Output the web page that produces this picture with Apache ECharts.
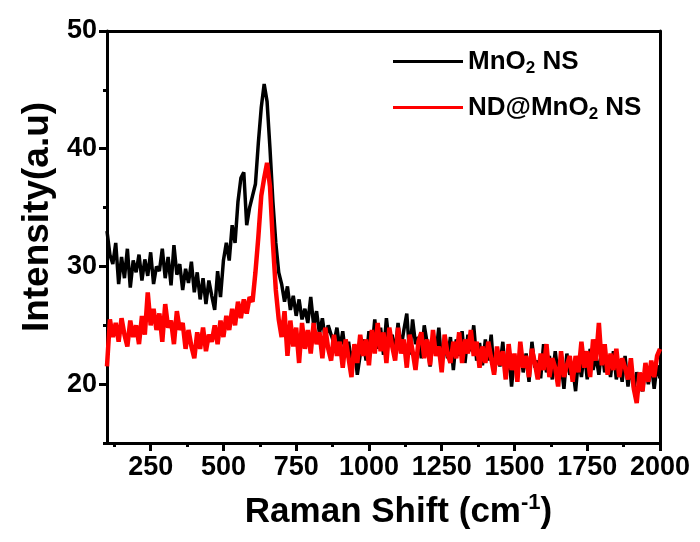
<!DOCTYPE html>
<html><head><meta charset="utf-8">
<script src="https://cdn.jsdelivr.net/npm/echarts@6/dist/echarts.min.js"></script>
<style>html,body{margin:0;padding:0;background:#fff}#c{width:700px;height:542px}</style>
</head><body><div id="c"></div>
<script>
// Raman shift (cm-1)
const shift = [100,110,120,130,140,150,160,170,180,190,200,210,220,230,240,250,260,270,280,290,300,310,320,330,340,350,360,370,380,390,400,410,420,430,440,450,460,470,480,490,500,510,520,530,540,550,560,570,580,590,600,610,620,630,640,650,660,670,680,690,700,710,720,730,740,750,760,770,780,790,800,810,820,830,840,850,860,870,880,890,900,910,920,930,940,950,960,970,980,990,1000,1010,1020,1030,1040,1050,1060,1070,1080,1090,1100,1110,1120,1130,1140,1150,1160,1170,1180,1190,1200,1210,1220,1230,1240,1250,1260,1270,1280,1290,1300,1310,1320,1330,1340,1350,1360,1370,1380,1390,1400,1410,1420,1430,1440,1450,1460,1470,1480,1490,1500,1510,1520,1530,1540,1550,1560,1570,1580,1590,1600,1610,1620,1630,1640,1650,1660,1670,1680,1690,1700,1710,1720,1730,1740,1750,1760,1770,1780,1790,1800,1810,1820,1830,1840,1850,1860,1870,1880,1890,1900,1910,1920,1930,1940,1950,1960,1970,1980,1990,2000];
// MnO2 NS intensity
const mno2 = [
33.0,31.0,30.2,32.0,28.5,30.8,29.0,31.5,28.2,30.5,
29.5,31.0,28.8,30.6,29.2,31.2,28.5,30.0,29.6,31.5,
29.0,30.8,28.4,31.8,29.3,30.2,28.0,29.8,28.6,30.4,
27.8,29.5,27.2,29.0,26.8,28.8,27.5,26.3,29.6,27.4,
30.5,32.0,30.5,33.5,32.0,35.5,37.5,38.0,33.5,35.0,
36.0,37.0,40.5,43.5,45.5,44.0,40.0,35.5,32.0,29.5,
28.5,27.0,28.3,26.3,27.5,25.8,27.2,25.5,26.4,25.2,
27.4,25.0,26.2,24.3,25.6,23.8,25.0,24.2,23.5,24.8,
23.0,24.5,22.4,23.6,21.8,23.2,20.8,22.5,23.8,22.0,
24.5,22.8,25.5,23.0,24.8,22.5,25.6,23.4,24.2,22.6,
25.2,23.0,24.6,26.0,22.5,25.5,23.4,24.0,22.2,25.0,
23.5,21.5,24.2,22.5,24.8,21.8,23.6,22.2,24.0,21.2,
23.8,22.4,24.5,21.8,24.2,22.8,25.0,22.0,23.5,21.6,
23.8,22.0,24.2,20.8,23.0,21.5,23.6,20.5,22.8,19.8,
22.4,20.6,23.2,21.0,22.6,20.2,23.6,21.4,22.0,20.5,
23.4,21.0,22.4,20.4,22.8,20.8,21.8,19.6,22.6,20.8,
21.4,19.4,22.2,20.6,22.8,20.4,23.0,21.2,22.4,20.8,
23.0,21.0,22.2,20.6,22.8,20.4,21.8,20.2,22.4,19.8,
21.6,19.6,21.0,20.2,19.4,21.4,20.0,21.8,19.6,21.6,
20.5];
// ND@MnO2 NS intensity
const ndMno2 = [
21.5,25.5,24.0,25.2,23.6,25.6,24.2,23.2,25.4,24.0,
25.0,23.4,25.8,24.2,27.8,25.0,26.4,24.6,26.0,23.6,
26.8,24.8,25.4,23.4,26.2,24.6,25.2,23.0,24.6,23.2,
22.2,24.4,23.0,24.8,22.8,24.2,23.6,25.0,23.4,25.4,
24.0,25.8,24.6,26.4,25.0,27.0,25.6,27.2,26.0,27.4,
27.0,29.5,32.5,36.0,37.5,38.8,36.8,32.0,28.0,25.5,
24.0,26.2,22.4,25.4,23.2,24.8,21.8,25.2,23.0,24.6,
22.6,25.2,23.4,24.4,22.2,24.8,23.0,22.0,24.2,22.4,
23.6,21.4,23.8,22.2,20.6,23.4,21.8,24.2,22.4,23.8,
21.6,24.6,22.6,25.2,22.8,24.4,21.8,24.8,23.2,22.0,
24.8,22.6,23.8,21.4,24.2,22.8,21.2,23.6,24.4,22.2,
23.8,21.6,24.6,22.4,23.2,21.0,24.2,22.6,21.8,23.6,
22.2,24.4,21.8,23.8,22.6,24.6,22.4,23.6,21.4,23.2,
21.8,23.6,22.2,20.8,23.2,21.6,22.8,20.4,23.4,21.2,
22.6,20.2,23.6,21.4,22.4,20.6,23.0,21.8,20.4,22.6,
21.2,23.4,20.6,22.2,21.4,19.8,22.8,20.6,21.6,22.4,
20.2,22.4,21.0,23.6,21.4,22.8,20.6,23.8,22.0,25.2,
21.6,23.4,20.8,22.6,21.2,23.0,20.6,22.2,21.4,20.4,
22.2,19.6,18.4,21.0,19.4,21.8,20.2,22.0,20.6,22.4,
23.0];
const xTicks = [250,500,750,1000,1250,1500,1750,2000];
const xMinor = [125,375,625,875,1125,1375,1625,1875];
const yTicks = [20,30,40,50];
const yMinor = [15,25,35,45];

const FONT = '"Liberation Sans",Arial,sans-serif';
const chart = echarts.init(document.getElementById('c'), null, {renderer: 'canvas'});
const lw = 3;
const hidden = {show: false};
const plain = v => String(v);
const option = {
  animation: false,
  backgroundColor: '#fff',
  grid: {left: 107, right: 40, top: 31, bottom: 99, containLabel: false},
  legend: {
    orient: 'vertical', left: 388, top: 39, itemWidth: 70, itemHeight: 3, itemGap: 13,
    icon: 'rect',
    textStyle: {
      fontFamily: FONT, fontWeight: 'bold', fontSize: 26, color: '#000',
      rich: {
        a: {fontFamily: FONT, fontWeight: 'bold', fontSize: 26, color: '#000', lineHeight: 31},
        s: {fontFamily: FONT, fontWeight: 'bold', fontSize: 17, color: '#000', lineHeight: 17, verticalAlign: 'bottom', padding: [16, 0, 0, 0]}
      }
    },
    formatter: function (name) {
      return name === 'MnO2 NS' ? '{a|MnO}{s|2}{a| NS}' : '{a|ND@MnO}{s|2}{a| NS}';
    },
    data: ['MnO2 NS', 'ND@MnO2 NS']
  },
  xAxis: [
    {
      type: 'value', min: 100, max: 2000, position: 'bottom',
      name: '{a|Raman Shift (cm}{u|-1}{a|)}', nameLocation: 'middle', nameGap: 49,
      nameTextStyle: {
        padding: [0, 0, 0, 30],
        rich: {
          a: {fontFamily: FONT, fontWeight: 'bold', fontSize: 35, color: '#000', lineHeight: 40},
          u: {fontFamily: FONT, fontWeight: 'bold', fontSize: 22, color: '#000', lineHeight: 22, verticalAlign: 'top', padding: [0, 0, 18, 0]}
        }
      },
      axisLine: {onZero: false, lineStyle: {color: '#000', width: lw}},
      axisTick: {show: true, inside: false, length: 8, lineStyle: {width: lw, color: '#000'}, customValues: xTicks},
      axisLabel: {show: true, customValues: xTicks, formatter: plain, showMaxLabel: true, hideOverlap: false, margin: 11, fontFamily: FONT, fontWeight: 'bold', fontSize: 27, color: '#000'},
      splitLine: hidden
    },
    {
      type: 'value', min: 100, max: 2000, position: 'bottom', gridIndex: 0,
      axisLine: {show: false, onZero: false},
      axisTick: {show: true, length: 4, lineStyle: {width: lw, color: '#000'}, customValues: xMinor},
      axisLabel: hidden, splitLine: hidden
    },
    {
      type: 'value', min: 100, max: 2000, position: 'top',
      axisLine: {onZero: false, lineStyle: {color: '#000', width: lw}},
      axisTick: hidden, axisLabel: hidden, splitLine: hidden
    }
  ],
  yAxis: [
    {
      type: 'value', min: 15, max: 50, position: 'left',
      name: 'Intensity(a.u)', nameLocation: 'middle', nameGap: 50, nameRotate: 90,
      nameTextStyle: {fontFamily: FONT, fontWeight: 'bold', fontSize: 37, color: '#000', padding: [0, 0, 0, 40]},
      axisLine: {onZero: false, lineStyle: {color: '#000', width: lw}},
      axisTick: {show: true, length: 8, lineStyle: {width: lw, color: '#000'}, customValues: yTicks},
      axisLabel: {show: true, customValues: yTicks, formatter: plain, showMaxLabel: true, margin: 10, fontFamily: FONT, fontWeight: 'bold', fontSize: 27, color: '#000'},
      splitLine: hidden
    },
    {
      type: 'value', min: 15, max: 50, position: 'left',
      axisLine: {show: false, onZero: false},
      axisTick: {show: true, length: 4, lineStyle: {width: lw, color: '#000'}, customValues: yMinor},
      axisLabel: hidden, splitLine: hidden
    },
    {
      type: 'value', min: 15, max: 50, position: 'right',
      axisLine: {onZero: false, lineStyle: {color: '#000', width: lw}},
      axisTick: hidden, axisLabel: hidden, splitLine: hidden
    }
  ],
  series: [
    {
      name: 'MnO2 NS', type: 'line', xAxisIndex: 0, yAxisIndex: 0, showSymbol: false, symbol: 'none',
      data: shift.map((x, i) => [x, mno2[i]]),
      lineStyle: {color: '#000', width: 3.5}, itemStyle: {color: '#000'}, z: 2
    },
    {
      name: 'ND@MnO2 NS', type: 'line', xAxisIndex: 0, yAxisIndex: 0, showSymbol: false, symbol: 'none',
      data: shift.map((x, i) => [x, ndMno2[i]]),
      lineStyle: {color: '#ff0000', width: 4.5}, itemStyle: {color: '#ff0000'}, z: 3
    }
  ]
};
chart.setOption(option);
</script>
</body></html>
